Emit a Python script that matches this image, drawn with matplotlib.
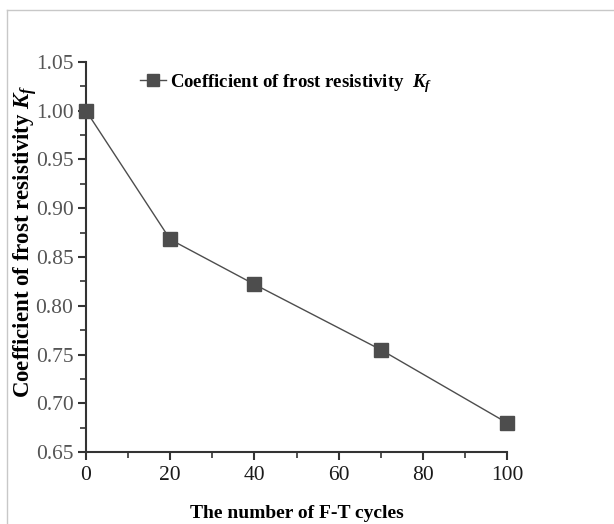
import matplotlib
matplotlib.use("Agg")
import matplotlib.pyplot as plt
from matplotlib.lines import Line2D
from matplotlib.ticker import MultipleLocator, FormatStrFormatter

plt.rcParams['font.family'] = ['Liberation Serif', 'DejaVu Serif']
plt.rcParams['mathtext.fontset'] = 'custom'
plt.rcParams['mathtext.it'] = 'Liberation Serif:italic:bold'
plt.rcParams['mathtext.rm'] = 'Liberation Serif:bold'
plt.rcParams['mathtext.bf'] = 'Liberation Serif:bold'

cycles = [0, 20, 40, 70, 100]
kf = [1.00, 0.868, 0.822, 0.755, 0.680]

fig = plt.figure(figsize=(6.14, 5.24), dpi=100)
ax = fig.add_axes([0.140, 0.137, 0.686, 0.745])

ax.plot(cycles, kf, color='#4d4d4d', lw=1.0, marker='s', markersize=9.5,
        markerfacecolor='#4d4d4d', markeredgecolor='#4d4d4d',
        label=r'Coefficient of frost resistivity  $K_f$', clip_on=False, zorder=3)

ax.set_xlim(0, 100)
ax.set_ylim(0.65, 1.05)
ax.xaxis.set_major_locator(MultipleLocator(20))
ax.xaxis.set_minor_locator(MultipleLocator(10))
ax.yaxis.set_major_locator(MultipleLocator(0.05))
ax.yaxis.set_minor_locator(MultipleLocator(0.025))
ax.yaxis.set_major_formatter(FormatStrFormatter('%.2f'))

for s in ['top', 'right']:
    ax.spines[s].set_visible(False)
for s in ['left', 'bottom']:
    ax.spines[s].set_color('#333333')
    ax.spines[s].set_linewidth(1.5)

ax.tick_params(which='major', direction='out', length=6, width=1.5, color='#333333',
               labelsize=15.5, labelcolor='#555555', pad=3)
ax.tick_params(axis='x', labelcolor='#1a1a1a', pad=4)
ax.tick_params(which='minor', direction='out', length=4, width=1.2, color='#333333')

ax.set_xlabel('The number of F-T cycles', fontsize=14, fontweight='bold')
ax.xaxis.set_label_coords(0.5, -0.135)
ax.set_ylabel(r'Coefficient of frost resistivity $K_f$', fontsize=16.5, fontweight='bold')
ax.yaxis.set_label_coords(-0.112, 0.54)

ax.legend(loc='center left', bbox_to_anchor=(0.128, 0.945), frameon=False,
          prop={'size': 13.5, 'weight': 'bold'}, handlelength=1.4, handletextpad=0.2,
          markerscale=0.85, borderaxespad=0, borderpad=0)

fig.add_artist(Line2D([7/614, 7/614], [0, 1-10/524], transform=fig.transFigure,
                      color='#c8c8c8', lw=1))
fig.add_artist(Line2D([7/614, 1], [1-10/524, 1-10/524], transform=fig.transFigure,
                      color='#c8c8c8', lw=1))

fig.savefig('out.png', dpi=100)
